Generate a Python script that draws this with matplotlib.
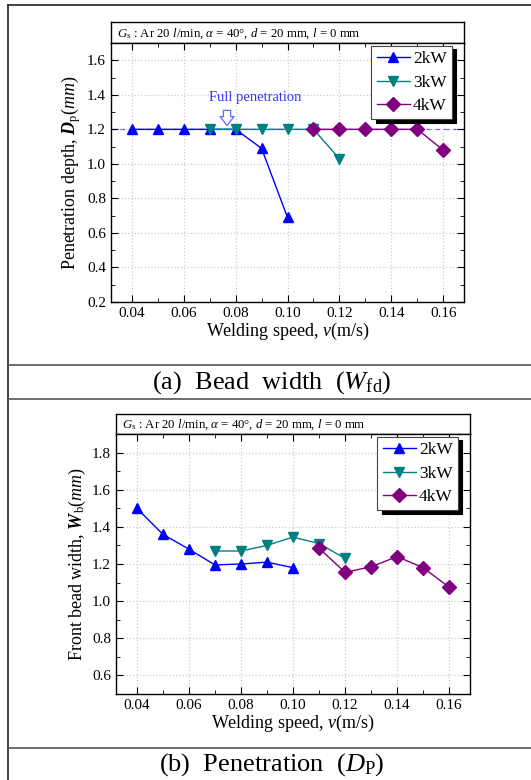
import matplotlib.pyplot as plt
from matplotlib.ticker import MultipleLocator
from matplotlib.lines import Line2D

plt.rcParams['font.family'] = 'Liberation Serif'
plt.rcParams['mathtext.fontset'] = 'custom'
plt.rcParams['mathtext.rm'] = 'Liberation Serif'
plt.rcParams['mathtext.it'] = 'Liberation Serif:italic'
plt.rcParams['mathtext.bf'] = 'Liberation Serif:bold'
plt.rcParams['mathtext.bfit'] = 'Liberation Serif:bold:italic'

# datos
v_2kw_a = [0.04, 0.05, 0.06, 0.07, 0.08, 0.09, 0.10]
dp_2kw = [1.20, 1.20, 1.20, 1.20, 1.20, 1.09, 0.69]
v_3kw_a = [0.07, 0.08, 0.09, 0.10, 0.11, 0.12]
dp_3kw = [1.20, 1.20, 1.20, 1.20, 1.20, 1.03]
v_4kw_a = [0.11, 0.12, 0.13, 0.14, 0.15, 0.16]
dp_4kw = [1.20, 1.20, 1.20, 1.20, 1.20, 1.08]

v_2kw_b = [0.04, 0.05, 0.06, 0.07, 0.08, 0.09, 0.10]
wb_2kw = [1.50, 1.36, 1.28, 1.195, 1.20, 1.21, 1.18]
v_3kw_b = [0.07, 0.08, 0.09, 0.10, 0.11, 0.12]
wb_3kw = [1.27, 1.27, 1.30, 1.345, 1.31, 1.23]
v_4kw_b = [0.11, 0.12, 0.13, 0.14, 0.15, 0.16]
wb_4kw = [1.285, 1.155, 1.185, 1.24, 1.18, 1.075]

full_pen = 1.2
etiquetas = ['2kW', '3kW', '4kW']
colores = ['#0000ff', '#008080', '#800080']
marcadores = ['^', 'v', 'D']

W, H = 531, 780
fig = plt.figure(figsize=(W / 100, H / 100), dpi=100)

def caja(x0, y0, x1, y1):
    # pixeles (arriba-izquierda) -> fraccion de figura
    return [x0 / W, 1 - y1 / H, (x1 - x0) / W, (y1 - y0) / H]

header = r'$G_\mathrm{s}$ : Ar 20 $l$/min, $\alpha$ = 40°, $d$ = 20 mm, $l$ = 0 mm'

def panel(px, ylim, yticks, series, ylabel):
    x0, y_top, x1, y_head, y1 = px
    hd = fig.add_axes(caja(x0, y_top, x1, y_head))
    hd.set_xticks([])
    hd.set_yticks([])
    hd.text(0.018, 0.45, header, fontsize=9.2, va='center', ha='left', transform=hd.transAxes)
    for s in hd.spines.values():
        s.set_linewidth(1.0)
    ax = fig.add_axes(caja(x0, y_head, x1, y1))
    for (xv, yv), c, m, lab in zip(series, colores, marcadores, etiquetas):
        ax.plot(xv, yv, color=c, marker=m, markersize=7, linewidth=1, label=lab)
    ax.set_xlim(0.032, 0.168)
    ax.set_ylim(*ylim)
    ax.set_yticks(yticks)
    ax.xaxis.set_major_locator(MultipleLocator(0.02))
    ax.xaxis.set_minor_locator(MultipleLocator(0.01))
    ax.yaxis.set_minor_locator(MultipleLocator(0.1))
    ax.xaxis.set_major_formatter(plt.FuncFormatter(lambda v, p: f'{v:.2f}'))
    ax.yaxis.set_major_formatter(plt.FuncFormatter(lambda v, p: f'{v:.1f}'))
    ax.tick_params(which='both', direction='in', top=True, right=True, labelsize=11)
    ax.tick_params(which='major', length=5)
    ax.tick_params(which='minor', length=3)
    ax.grid(True, color='#cccccc', linestyle=':', linewidth=0.9)
    for s in ax.spines.values():
        s.set_linewidth(1.0)
    ax.set_xlabel(r'Welding speed, $v$(m/s)', fontsize=13, labelpad=1)
    ax.set_ylabel(ylabel, fontsize=13, labelpad=3)
    alto = y1 - y_head
    ancho = x1 - x0
    leg = ax.legend(loc='upper right', fontsize=12.5, frameon=True, fancybox=False,
                    edgecolor='#444444', framealpha=1, handlelength=1.9, borderpad=0.3,
                    labelspacing=0.42, handletextpad=0.2, borderaxespad=0,
                    shadow={'color': 'black', 'alpha': 1, 'ox': 3, 'oy': -2.5},
                    bbox_to_anchor=(1 - 12 / ancho, 1 - 3 / alto))
    leg.get_frame().set_linewidth(0.8)
    return ax

ax1 = panel((111, 22, 464, 43, 302), (0.2, 1.7), [0.2, 0.4, 0.6, 0.8, 1.0, 1.2, 1.4, 1.6],
            [(v_2kw_a, dp_2kw), (v_3kw_a, dp_3kw), (v_4kw_a, dp_4kw)],
            r'Penetration depth, $\mathbfit{D}_\mathrm{p}$($mm$)')
ax1.axhline(full_pen, color='#4444ff', linestyle='--', linewidth=0.9, dashes=(4, 3), zorder=1)
ax1.text(0.0877, 1.385, 'Full penetration', color='#3333ff', fontsize=10.5, ha='center', va='center')
ax1.annotate('', xy=(0.0767, 1.222), xytext=(0.0767, 1.31),
             arrowprops=dict(arrowstyle='simple,head_length=0.32,head_width=0.5,tail_width=0.26',
                             mutation_scale=20, shrinkA=0, shrinkB=0,
                             facecolor='white', edgecolor='#6666ff', linewidth=0.9))

ax2 = panel((116, 414, 470, 434, 694), (0.5, 1.9), [0.6, 0.8, 1.0, 1.2, 1.4, 1.6, 1.8],
            [(v_2kw_b, wb_2kw), (v_3kw_b, wb_3kw), (v_4kw_b, wb_4kw)],
            r'Front bead width, $\mathbfit{W}_\mathrm{b}$($mm$)')

# marco y separadores
fig.add_artist(Line2D([8 / W, 8 / W], [0, 1 - 5 / H], color='#222222', linewidth=1.2))
fig.add_artist(Line2D([8 / W, 1], [1 - 5 / H, 1 - 5 / H], color='#222222', linewidth=1.2))
for yy in [365, 399.5, 748]:
    fig.add_artist(Line2D([8 / W, 1], [1 - yy / H, 1 - yy / H], color='#555555', linewidth=1.2))

fig.text(272 / W, 1 - 383 / H, r'(a)  Bead  width  ($W_\mathrm{fd}$)', fontsize=19,
         ha='center', va='center')
fig.text(272 / W, 1 - 765 / H, r'(b)  Penetration  ($D_\mathrm{P}$)', fontsize=19,
         ha='center', va='center')

fig.savefig('out.png', dpi=100)
